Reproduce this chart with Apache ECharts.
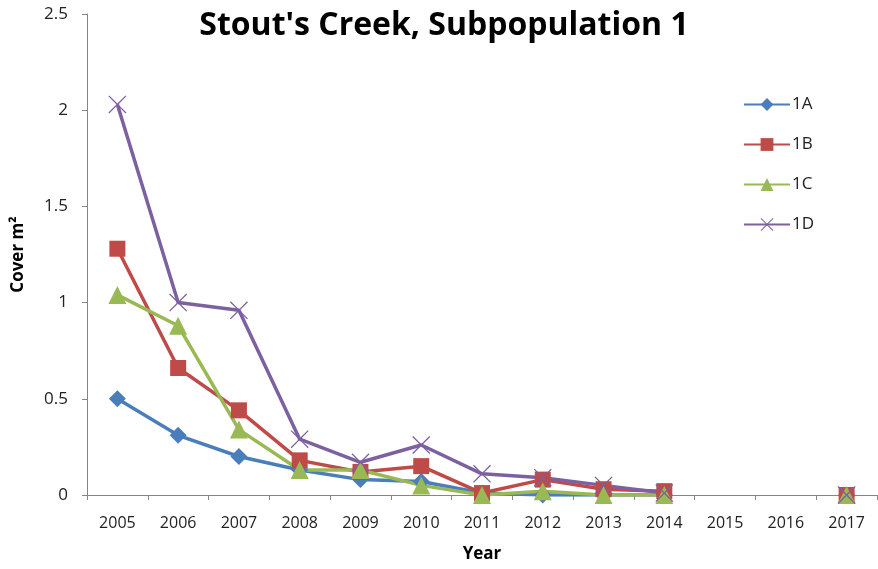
<!DOCTYPE html>
<html>
<head>
<meta charset="utf-8">
<script src="https://cdn.jsdelivr.net/npm/echarts@6/dist/echarts.min.js"></script>
<style>
html,body{margin:0;padding:0;background:#fff;}
#chart{width:878px;height:569px;}
</style>
</head>
<body>
<div id="chart"></div>
<script>
// Survey years (2015 and 2016 not sampled)
const years = ['2005','2006','2007','2008','2009','2010','2011','2012','2013','2014','2015','2016','2017'];

// Cover (m²) per plot; null = no survey that year
const cover1A = [0.50, 0.31, 0.20, 0.13, 0.08, 0.07, 0.01, 0.00, 0.00, 0.00, null, null, 0.00];
const cover1B = [1.28, 0.66, 0.44, 0.18, 0.12, 0.15, 0.01, 0.08, 0.03, 0.02, null, null, 0.00];
const cover1C = [1.04, 0.88, 0.34, 0.13, 0.13, 0.05, 0.00, 0.02, 0.00, 0.00, null, null, 0.00];
const cover1D = [2.03, 1.00, 0.96, 0.29, 0.17, 0.26, 0.11, 0.09, 0.05, 0.01, null, null, 0.00];

const yTicks = { min: 0, max: 2.5, interval: 0.5 };

const FONT = '"Open Sans", "Liberation Sans", sans-serif';
const crossPath = 'path://M1,0 L10,9 L19,0 L20,1 L11,10 L20,19 L19,20 L10,11 L1,20 L0,19 L9,10 L0,1 Z';

function makeSeries(name, data, color, symbol, size) {
  return {
    name: name,
    type: 'line',
    data: data,
    connectNulls: false,
    symbol: symbol,
    symbolSize: size,
    showAllSymbol: true,
    lineStyle: { color: color, width: 3.5 },
    itemStyle: { color: color },
    emphasis: { disabled: true },
    animation: false
  };
}

const chart = echarts.init(document.getElementById('chart'), null, { renderer: 'canvas' });
chart.setOption({
  backgroundColor: '#ffffff',
  animation: false,
  title: {
    text: "Stout's Creek, Subpopulation 1",
    left: 439,
    textAlign: 'center',
    top: 5,
    textStyle: { fontFamily: FONT, fontWeight: 'bold', fontSize: 32, color: '#000' }
  },
  legend: {
    orient: 'vertical',
    left: 738,
    top: 91,
    itemGap: 23,
    itemWidth: 46,
    itemHeight: 16,
    textStyle: { fontFamily: FONT, fontSize: 17, color: '#222', padding: [0, 0, 0, -3] },
    data: ['1A', '1B', '1C', '1D']
  },
  grid: { left: 87, right: 1, top: 14, bottom: 74 },
  xAxis: {
    type: 'category',
    data: years,
    boundaryGap: true,
    name: 'Year',
    nameLocation: 'middle',
    nameGap: 51,
    nameTextStyle: { fontFamily: FONT, fontWeight: 'bold', fontSize: 17, color: '#000' },
    axisLine: { lineStyle: { color: '#868686', width: 1 } },
    axisTick: { show: true, inside: false, length: 5, alignWithLabel: false, lineStyle: { color: '#868686' } },
    axisLabel: { fontFamily: FONT, fontSize: 16, color: '#222', margin: 20 },
    splitLine: { show: false }
  },
  yAxis: {
    type: 'value',
    min: yTicks.min,
    max: yTicks.max,
    interval: yTicks.interval,
    name: 'Cover m²',
    nameLocation: 'middle',
    nameGap: 60,
    nameTextStyle: { fontFamily: FONT, fontWeight: 'bold', fontSize: 17, color: '#000' },
    axisLine: { show: true, lineStyle: { color: '#868686', width: 1 } },
    axisTick: { show: true, inside: false, length: 5, lineStyle: { color: '#868686' } },
    axisLabel: { fontFamily: FONT, fontSize: 17, color: '#222', margin: 19 },
    splitLine: { show: false }
  },
  series: [
    makeSeries('1A', cover1A, '#4A7EBB', 'diamond', 17),
    makeSeries('1B', cover1B, '#BE4B48', 'rect', 16),
    makeSeries('1C', cover1C, '#98B954', 'triangle', 18),
    makeSeries('1D', cover1D, '#7D60A0', crossPath, 18)
  ]
});
</script>
</body>
</html>
